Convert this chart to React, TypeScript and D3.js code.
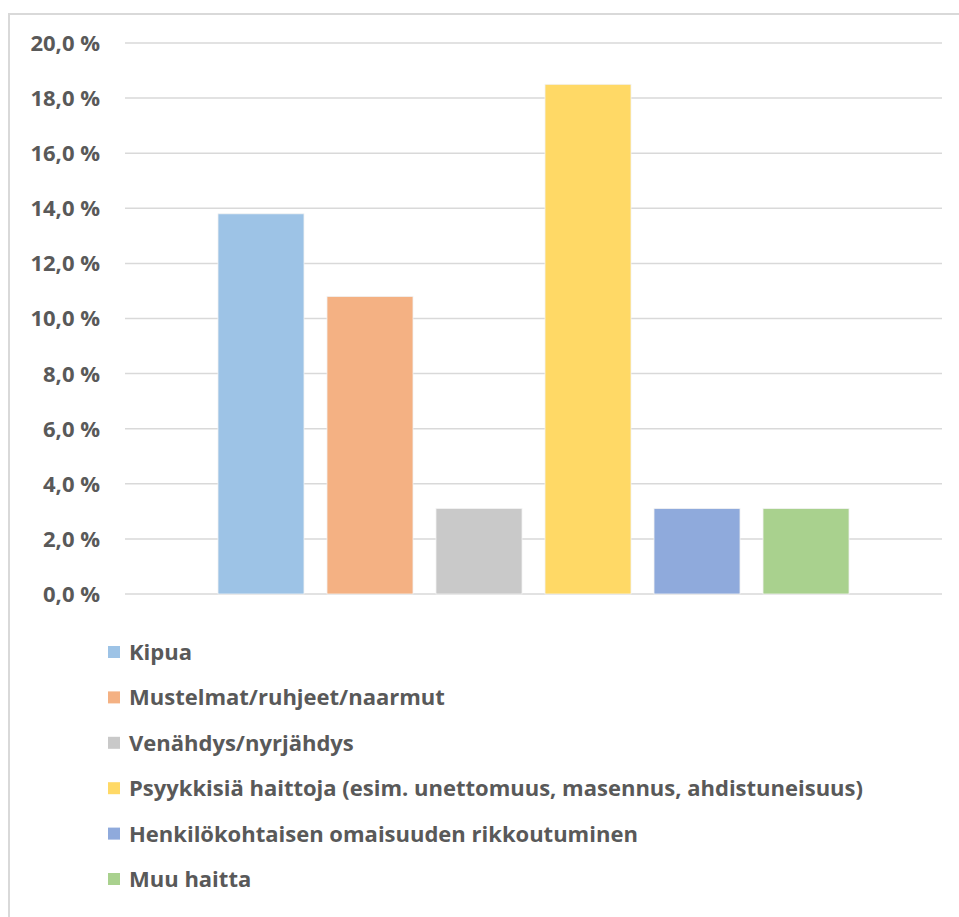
import React from "react";
import * as d3 from "d3";

// Haittojen osuudet vastaajista (%)
const categories = [
  "Kipua",
  "Mustelmat/ruhjeet/naarmut",
  "Venähdys/nyrjähdys",
  "Psyykkisiä haittoja (esim. unettomuus, masennus, ahdistuneisuus)",
  "Henkilökohtaisen omaisuuden rikkoutuminen",
  "Muu haitta",
];
const values = [13.8, 10.8, 3.1, 18.5, 3.1, 3.1];
const colors = ["#9DC3E6", "#F4B183", "#C9C9C9", "#FFD966", "#8FAADC", "#A9D18E"];
const yTicks = [0, 2, 4, 6, 8, 10, 12, 14, 16, 18, 20];

const W = 959;
const H = 917;
const plot = { left: 125, right: 942, top: 43, bottom: 594 };
const FONT = "'Open Sans', Lato, sans-serif";
const TEXT = "#595959";

export default function App() {
  const y = d3.scaleLinear().domain([0, 20]).range([plot.bottom, plot.top]);
  const x = d3
    .scaleBand<string>()
    .domain(categories)
    .range([plot.left, plot.right])
    .paddingInner(0.211)
    .paddingOuter(0.853);
  const fmt = (v: number) => d3.format(".1f")(v).replace(".", ",") + " %";

  const legendY = d3.scaleLinear().domain([0, 5]).range([652, 879]);

  return (
    <svg
      width={W}
      height={H}
      style={{ position: "absolute", left: 0, top: 0, background: "#fff" }}
      fontFamily={FONT}
    >
      <rect x={9} y={14} width={W + 20} height={H + 20} fill="#fff" stroke="#D9D9D9" strokeWidth={2} />

      {yTicks.map((t) => (
        <g key={t}>
          <line x1={plot.left} x2={plot.right} y1={y(t)} y2={y(t)} stroke="#D9D9D9" strokeWidth={1.5} />
          <text
            x={100}
            y={y(t)}
            dy="0.36em"
            textAnchor="end"
            fontSize={22}
            fontWeight={700}
            fill={TEXT}
          >
            {fmt(t)}
          </text>
        </g>
      ))}

      {categories.map((c, i) => (
        <rect
          key={c}
          x={x(c)}
          y={y(values[i])}
          width={x.bandwidth()}
          height={y(0) - y(values[i])}
          fill={colors[i]}
          stroke="#F2F2F2"
          strokeWidth={0.8}
        />
      ))}

      {categories.map((c, i) => (
        <g key={c} transform={`translate(0,${legendY(i)})`}>
          <rect x={108} y={-6} width={12} height={12} fill={colors[i]} />
          <text x={129} dy="0.36em" fontSize={22} fontWeight={700} fill={TEXT}>
            {c}
          </text>
        </g>
      ))}
    </svg>
  );
}
